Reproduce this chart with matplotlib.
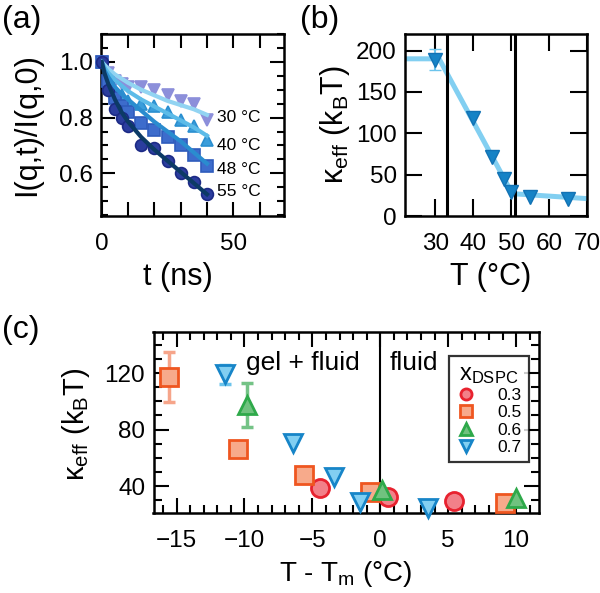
import matplotlib
matplotlib.use('Agg')
import matplotlib.pyplot as plt
from matplotlib.ticker import MultipleLocator
import numpy as np

plt.rcParams['font.family'] = ['Liberation Sans', 'DejaVu Sans']
plt.rcParams['mathtext.fontset'] = 'custom'
plt.rcParams['mathtext.rm'] = 'Liberation Sans'
plt.rcParams['mathtext.it'] = 'Liberation Sans'
plt.rcParams['axes.linewidth'] = 1.8

# ---- panel (a) : intermediate scattering functions
t_a = [0, 2.5, 5, 7.5, 10, 15, 20, 25, 30, 35, 40]
I_30 = [1.00, 0.96, 0.93, 0.92, 0.91, 0.91, 0.90, 0.88, 0.86, 0.85, 0.79]
I_40 = [1.00, 0.93, 0.89, 0.88, 0.86, 0.85, 0.84, 0.82, 0.79, 0.77, 0.72]
I_48 = [1.00, 0.93, 0.87, 0.84, 0.82, 0.78, 0.755, 0.73, 0.70, 0.665, 0.625]
I_55 = [1.00, 0.90, 0.83, 0.80, 0.77, 0.70, 0.69, 0.645, 0.60, 0.57, 0.525]

t_fit = [0, 1, 2.5, 5, 7.5, 10, 15, 20, 25, 30, 35, 40]
fit_30 = [1.0, 0.99, 0.975, 0.955, 0.94, 0.925, 0.90, 0.88, 0.86, 0.845, 0.83, 0.81]
fit_40 = [1.0, 0.98, 0.96, 0.935, 0.915, 0.895, 0.865, 0.84, 0.815, 0.79, 0.765, 0.735]
fit_48 = [1.0, 0.97, 0.945, 0.91, 0.885, 0.865, 0.825, 0.785, 0.75, 0.715, 0.675, 0.635]
fit_55 = [1.0, 0.96, 0.92, 0.865, 0.82, 0.785, 0.73, 0.685, 0.645, 0.605, 0.565, 0.525]
temps_a = ['30 °C', '40 °C', '48 °C', '55 °C']
label_y_a = [0.80, 0.70, 0.615, 0.535]

# ---- panel (b) : kappa vs T
T_b = [30, 40, 45, 48, 50, 55, 65]
k_b = [189, 119, 71, 45, 29, 23, 21]
k_b_err = [13, 0, 0, 0, 0, 0, 0]
T_b_fit = [22, 31, 50.3, 70]
k_b_fit = [190, 190, 27, 21]
T_b_lines = [33.1, 51.1]

# ---- panel (c) : kappa vs T - Tm
x03 = [-4.46, 0.54, 5.44]
k03 = [38.4, 32.4, 29.4]
e03 = [0, 0, 0]
x05 = [-15.56, -10.49, -5.64, -0.74, 9.19]
k05 = [117.4, 66.1, 47.8, 36.0, 28.2]
e05 = [17.7, 0, 0, 0, 0]
x06 = [-9.8, 0.12, 10.0]
k06 = [97.5, 37.2, 31.3]
e06 = [15.5, 0, 0]
x07 = [-11.4, -6.42, -3.43, -1.52, 3.48]
k07 = [119, 70.3, 46.6, 28.9, 24.2]
e07 = [7, 0, 0, 0, 0]
labels_c = ['0.3', '0.5', '0.6', '0.7']

fig = plt.figure(figsize=(6, 5.93), dpi=100)

def style(ax):
    ax.tick_params(which='both', direction='in', top=True, right=True,
                   width=1.5, labelsize=17.5)
    ax.tick_params(axis='x', pad=12)
    ax.tick_params(axis='y', pad=6)
    ax.tick_params(which='major', length=10)
    ax.tick_params(which='minor', length=5)

# ----- (a)
axa = fig.add_axes([101/600, 1-216/593, 183/600, 182/593])
mk_a = [('v', '#8c8fda', '#8c8fda', 9), ('^', '#3a9ddb', '#2a8fd0', 9),
        ('s', '#3d6ccc', '#2f5cbc', 8), ('o', '#2b3d9e', '#1c2a86', 8.5)]
lc_a = ['#92d4f2', '#5cbbe8', '#2a8ccf', '#0c3a66']
for I, f, (m, fc, ec, ms), lc in zip([I_30, I_40, I_48, I_55],
                                    [fit_30, fit_40, fit_48, fit_55], mk_a, lc_a):
    axa.plot(t_a, I, m, mfc=fc, mec=ec, ms=ms, mew=1.2, clip_on=False, zorder=3)
    axa.plot(t_fit, f, '-', color=lc, lw=3, zorder=4)
for txt, yy in zip(temps_a, label_y_a):
    axa.text(44, yy, txt, fontsize=12.5, va='center', ha='left')
axa.set_xlim(-0.3, 69.3)
axa.set_ylim(0.447, 1.1)
axa.set_xticks(range(0, 70, 10))
axa.set_xticklabels(['0', '', '', '', '', '50', ''])
axa.set_yticks([0.6, 0.8, 1.0])
axa.set_yticklabels(['0.6', '0.8', '1.0'])
axa.yaxis.set_minor_locator(MultipleLocator(0.05))
style(axa)
axa.set_xlabel('t (ns)', fontsize=22)
axa.set_ylabel('I(q,t)/I(q,0)', fontsize=22)
axa.xaxis.set_label_coords(0.42, -0.255)
axa.yaxis.set_label_coords(-0.32, 0.5)

# ----- (b)
axb = fig.add_axes([405/600, 1-216/593, 182/600, 182/593])
axb.plot(T_b_fit, k_b_fit, '-', color='#82cff1', lw=3.6, zorder=2)
for xv in T_b_lines:
    axb.axvline(xv, color='black', lw=2.2, zorder=3)
axb.errorbar(T_b[0], k_b[0], yerr=k_b_err[0], fmt='none', ecolor='#6cc4ec',
             capsize=4, elinewidth=1.5, zorder=4)
axb.plot(T_b, k_b, 'v', mfc='#1683c6', mec='#1272b4', ms=10, mew=1, zorder=5)
axb.set_xlim(22, 70)
axb.set_ylim(0, 220)
axb.set_xticks([30, 40, 50, 60, 70])
axb.set_yticks([0, 50, 100, 150, 200])
style(axb)
axb.tick_params(which='major', length=12)
axb.set_xlabel('T (°C)', fontsize=22)
axb.set_ylabel('κ$_{\\mathrm{eff}}$ (k$_{\\mathrm{B}}$T)', fontsize=22)
axb.xaxis.set_label_coords(0.47, -0.255)
axb.yaxis.set_label_coords(-0.29, 0.5)

# ----- (c)
axc = fig.add_axes([153.5/600, 1-513/593, 385/600, 181/593])
axc.axvline(0, color='black', lw=1.5, zorder=1)
series_c = [
    (x03, k03, e03, 'o', '#f28089', '#e8222f', '#f28089'),
    (x05, k05, e05, 's', '#f7aa8b', '#ef5620', '#f6a58a'),
    (x06, k06, e06, '^', '#70c27f', '#2ea94a', '#74c386'),
    (x07, k07, e07, 'v', '#82cff2', '#1785c8', '#6cc4ec'),
]
handles = []
for xs, ks, es, m, fc, ec, erc in series_c:
    xs = np.array(xs); ks = np.array(ks); es = np.array(es)
    sel = es > 0
    if sel.any():
        axc.errorbar(xs[sel], ks[sel], yerr=es[sel], fmt='none', ecolor=erc,
                     capsize=4, elinewidth=2.5, capthick=2.5, zorder=2)
    axc.plot(xs, ks, m, mfc=fc, mec=ec, ms=13, mew=2, zorder=3, clip_on=False)
    h, = axc.plot([], [], m, mfc=fc, mec=ec, ms=8, mew=2)
    handles.append(h)
axc.text(-9.9, 127, 'gel + fluid', fontsize=19, va='center', ha='left')
axc.text(0.66, 127, 'fluid', fontsize=19, va='center', ha='left')
axc.set_xlim(-16.7, 11.65)
axc.set_ylim(21, 149)
axc.set_xticks([-15, -10, -5, 0, 5, 10])
axc.set_yticks([40, 80, 120])
axc.xaxis.set_minor_locator(MultipleLocator(1))
axc.yaxis.set_minor_locator(MultipleLocator(10))
style(axc)
axc.tick_params(which='major', length=11)
axc.tick_params(which='minor', length=6)
leg = axc.legend(handles, labels_c, title='x$_{\\mathrm{DSPC}}$', loc='upper right',
                 bbox_to_anchor=(0.975, 0.867), fontsize=12.5, title_fontsize=17,
                 frameon=True, fancybox=False, handlelength=1.2, handletextpad=1.2,
                 labelspacing=0.12, borderpad=0.4, borderaxespad=0.0)
leg.get_frame().set_edgecolor('black')
leg.get_frame().set_linewidth(1.6)
axc.set_xlabel('T - T$_{\\mathrm{m}}$ (°C)', fontsize=20)
axc.set_ylabel('κ$_{\\mathrm{eff}}$ (k$_{\\mathrm{B}}$T)', fontsize=21)
axc.xaxis.set_label_coords(0.5, -0.255)
axc.yaxis.set_label_coords(-0.16, 0.49)

fig.text(0.003, 0.992, '(a)', fontsize=23, va='top', ha='left')
fig.text(0.500, 0.992, '(b)', fontsize=23, va='top', ha='left')
fig.text(0.003, 0.468, '(c)', fontsize=23, va='top', ha='left')

fig.savefig('out.png', dpi=100)
